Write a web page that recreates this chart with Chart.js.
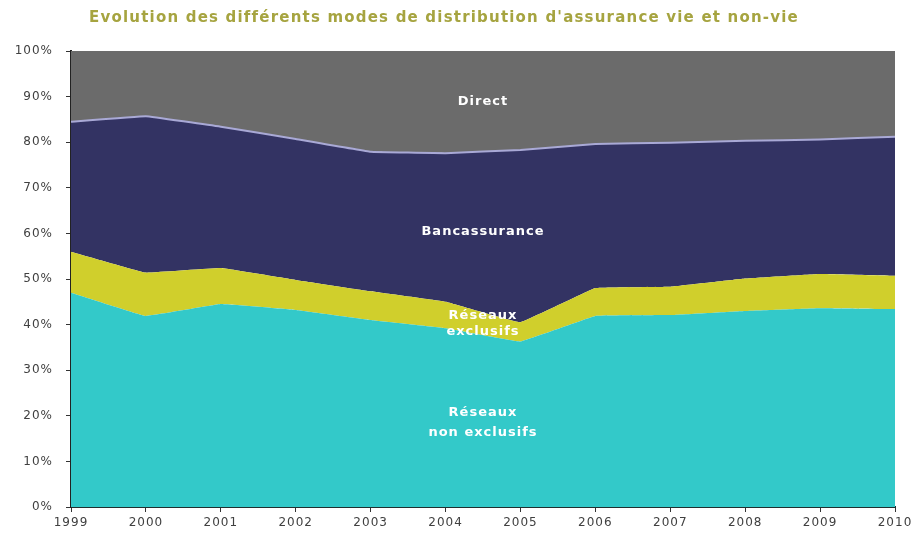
<!DOCTYPE html>
<html><head><meta charset="utf-8">
<script src="https://cdn.jsdelivr.net/npm/chart.js@4.4.0/dist/chart.umd.min.js"></script>
<style>html,body{margin:0;padding:0;background:#fff}#wrap{width:915px;height:541px}</style>
</head><body><div id="wrap"><canvas id="c" width="915" height="541"></canvas></div>
<script>
const years = ['1999','2000','2001','2002','2003','2004','2005','2006','2007','2008','2009','2010'];
const nonExclusifs = [47.0, 41.9, 44.5, 43.2, 41.0, 39.2, 36.3, 41.9, 42.1, 43.0, 43.6, 43.4];
const exclusifs    = [9.0, 9.5, 7.9, 6.6, 6.3, 5.8, 4.2, 6.1, 6.2, 7.1, 7.5, 7.3];
const bancassurance= [28.5, 34.3, 31.0, 30.9, 30.6, 32.6, 37.8, 31.6, 31.6, 30.2, 29.5, 30.5];
const direct       = [15.5, 14.3, 16.6, 19.3, 22.1, 22.4, 21.7, 20.4, 20.1, 19.7, 19.4, 18.8];
const yTicks = [0,10,20,30,40,50,60,70,80,90,100];
const titleText = "Evolution des différents modes de distribution d'assurance vie et non-vie";
// area labels: [text, x index, y value]
const areaLabels = [
  ['Direct', 5.5, 89],
  ['Bancassurance', 5.5, 60.3],
  ['Réseaux', 5.5, 41.9],
  ['exclusifs', 5.5, 38.4],
  ['Réseaux', 5.5, 20.8],
  ['non exclusifs', 5.5, 16.4]
];

const FONT = "'DejaVu Sans', Verdana, sans-serif";

const spacingPlugin = {
  id: 'spacing',
  beforeDraw(chart) { chart.ctx.letterSpacing = '1px'; }
};
const titlePlugin = {
  id: 'customTitle',
  afterDraw(chart) {
    const ctx = chart.ctx;
    ctx.save();
    ctx.letterSpacing = '1.2px';
    ctx.font = "bold 15px " + FONT;
    ctx.fillStyle = '#a6a440';
    ctx.textAlign = 'center';
    ctx.textBaseline = 'middle';
    ctx.fillText(titleText, 444, 18);
    ctx.restore();
  }
};
const labelsPlugin = {
  id: 'areaLabels',
  afterDatasetsDraw(chart) {
    const ctx = chart.ctx;
    const xs = chart.scales.x, ys = chart.scales.y;
    ctx.save();
    ctx.letterSpacing = '1px';
    ctx.font = "bold 13px " + FONT;
    ctx.fillStyle = '#ffffff';
    ctx.textAlign = 'center';
    ctx.textBaseline = 'middle';
    areaLabels.forEach(([t, xi, yv]) => {
      ctx.fillText(t, xs.getPixelForValue(xi), ys.getPixelForValue(yv));
    });
    ctx.restore();
  }
};

new Chart(document.getElementById('c'), {
  type: 'line',
  data: {
    labels: years,
    datasets: [
      { label: 'Réseaux non exclusifs', data: nonExclusifs, backgroundColor: '#33c9c9', borderWidth: 0, fill: 'origin', pointRadius: 0, tension: 0.05 },
      { label: 'Réseaux exclusifs', data: exclusifs, backgroundColor: '#d0cf2c', borderWidth: 0, fill: '-1', pointRadius: 0, tension: 0.05 },
      { label: 'Bancassurance', data: bancassurance, backgroundColor: '#333363', borderColor: '#a9a9d6', borderWidth: 2, fill: '-1', pointRadius: 0, tension: 0.05 },
      { label: 'Direct', data: direct, backgroundColor: '#6b6b6b', borderWidth: 0, fill: '-1', pointRadius: 0, tension: 0.05 }
    ]
  },
  options: {
    responsive: false,
    animation: false,
    devicePixelRatio: 1,
    layout: { padding: { left: 0, right: 20, top: 51, bottom: 0 } },
    plugins: { legend: { display: false }, title: { display: false }, tooltip: { enabled: false } },
    scales: {
      x: {
        offset: false,
        grid: { display: true, drawOnChartArea: false, drawTicks: true, tickLength: 5, color: '#333' },
        border: { display: true, color: '#1f2f2f', width: 2 },
        ticks: { color: '#404040', font: { family: FONT, size: 12 }, padding: 4, maxRotation: 0, autoSkip: false },
        afterFit(axis) { axis.height = 34; }
      },
      y: {
        stacked: true,
        min: 0, max: 100,
        afterBuildTicks(axis) { axis.ticks = yTicks.map(v => ({ value: v })); },
        grid: { display: true, drawOnChartArea: false, drawTicks: true, tickLength: 5, color: '#333' },
        border: { display: true, color: '#222', width: 2 },
        ticks: { color: '#404040', font: { family: FONT, size: 12 }, padding: 13, callback: v => v + '%' },
        afterFit(axis) { axis.width = 71; }
      }
    }
  },
  plugins: [spacingPlugin, labelsPlugin, titlePlugin]
});
</script>
</body></html>
